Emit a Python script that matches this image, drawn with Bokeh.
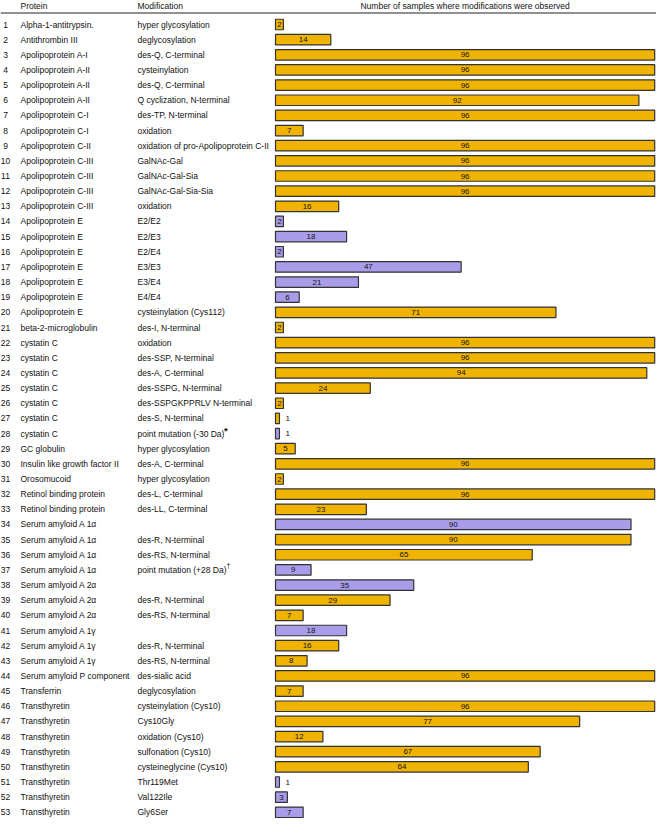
from bokeh.plotting import figure
from bokeh.models import ColumnDataSource, Range1d, Span
from bokeh.embed import file_html
from bokeh.resources import INLINE
from bokeh.core.properties import value

proteins = [
    "Alpha-1-antitrypsin.", "Antithrombin III", "Apolipoprotein A-I", "Apolipoprotein A-II",
    "Apolipoprotein A-II", "Apolipoprotein A-II", "Apolipoprotein C-I", "Apolipoprotein C-I",
    "Apolipoprotein C-II", "Apolipoprotein C-III", "Apolipoprotein C-III", "Apolipoprotein C-III",
    "Apolipoprotein C-III", "Apolipoprotein E", "Apolipoprotein E", "Apolipoprotein E",
    "Apolipoprotein E", "Apolipoprotein E", "Apolipoprotein E", "Apolipoprotein E",
    "beta-2-microglobulin", "cystatin C", "cystatin C", "cystatin C", "cystatin C",
    "cystatin C", "cystatin C", "cystatin C", "GC globulin", "Insulin like growth factor II",
    "Orosomucoid", "Retinol binding protein", "Retinol binding protein",
    "Serum amyloid A 1\u03b1", "Serum amyloid A 1\u03b1", "Serum amyloid A 1\u03b1",
    "Serum amyloid A 1\u03b1", "Serum amlyoid A 2\u03b1", "Serum amyloid A 2\u03b1",
    "Serum amyloid A 2\u03b1", "Serum amyloid A 1\u03b3", "Serum amyloid A 1\u03b3",
    "Serum amyloid A 1\u03b3", "Serum amyloid P component", "Transferrin", "Transthyretin",
    "Transthyretin", "Transthyretin", "Transthyretin", "Transthyretin", "Transthyretin",
    "Transthyretin", "Transthyretin",
]
modifications = [
    "hyper glycosylation", "deglycosylation", "des-Q, C-terminal", "cysteinylation",
    "des-Q, C-terminal", "Q cyclization, N-terminal", "des-TP, N-terminal", "oxidation",
    "oxidation of pro-Apolipoprotein C-II", "GalNAc-Gal", "GalNAc-Gal-Sia", "GalNAc-Gal-Sia-Sia",
    "oxidation", "E2/E2", "E2/E3", "E2/E4", "E3/E3", "E3/E4", "E4/E4", "cysteinylation (Cys112)",
    "des-I, N-terminal", "oxidation", "des-SSP, N-terminal", "des-A, C-terminal",
    "des-SSPG, N-terminal", "des-SSPGKPPRLV N-terminal", "des-S, N-terminal",
    "point mutation (-30 Da)", "hyper glycosylation", "des-A, C-terminal", "hyper glycosylation",
    "des-L, C-terminal", "des-LL, C-terminal", "", "des-R, N-terminal", "des-RS, N-terminal",
    "point mutation (+28 Da)", "", "des-R, N-terminal", "des-RS, N-terminal", "",
    "des-R, N-terminal", "des-RS, N-terminal", "des-sialic acid", "deglycosylation",
    "cysteinylation (Cys10)", "Cys10Gly", "oxidation (Cys10)", "sulfonation (Cys10)",
    "cysteineglycine (Cys10)", "Thr119Met", "Val122Ile", "Gly6Ser",
]
counts = [
    2, 14, 96, 96, 96, 92, 96, 7, 96, 96, 96, 96, 16, 2, 18, 2, 47, 21, 6, 71, 2,
    96, 96, 94, 24, 2, 1, 1, 5, 96, 2, 96, 23, 90, 90, 65, 9, 35, 29, 7, 18, 16, 8,
    96, 7, 96, 77, 12, 67, 64, 1, 3, 7,
]
# "m" = modification (orange), "v" = variant (purple)
kinds = [
    "m", "m", "m", "m", "m", "m", "m", "m", "m", "m", "m", "m", "m", "v", "v", "v", "v", "v", "v", "m", "m",
    "m", "m", "m", "m", "m", "m", "v", "m", "m", "m", "m", "m", "v", "m", "m", "v", "v", "m", "m", "v", "m", "m",
    "m", "m", "m", "m", "m", "m", "m", "v", "v", "v",
]
mark_rows = [28, 37]
mark_symbols = ["*", "\u2020"]

headers = ["Protein", "Modification", "Number of samples where modifications were observed"]

# ---- layout ----
W, H = 656, 818
PXU = 3.95          # pixels per sample
BAR_LEFT = 275      # px of bar origin inside figure
ROW = 15.15         # px per row
ROW1 = 24           # px of first row centre
FONT = value("Liberation Sans")
FS = "8.5px"

x0 = -BAR_LEFT / PXU
x1 = (W - BAR_LEFT) / PXU
y_top = 1 - ROW1 / ROW
y_bot = 1 + (H - ROW1) / ROW

num_x = x0 + 5 / PXU
prot_x = x0 + 20 / PXU
mod_x = x0 + 137 / PXU

n = len(counts)
rows = list(range(1, n + 1))
colors = ["#F0B400" if k == "m" else "#A99DEA" for k in kinds]

src = ColumnDataSource(dict(
    row=rows, num=[str(r) for r in rows], protein=proteins, mod=modifications,
    count=counts, color=colors, label=[str(c) for c in counts],
    mid=[c / 2 for c in counts],
))

p = figure(width=W, height=H, x_range=Range1d(x0, x1), y_range=Range1d(y_bot, y_top),
           output_backend="svg", toolbar_location=None, min_border=0,
           x_axis_location=None, y_axis_location=None)
p.grid.visible = False
p.outline_line_color = None
p.background_fill_color = "white"

# header
hy = y_top + 5 / ROW
p.text(x=[prot_x, mod_x], y=[hy, hy], text=headers[:2], text_font=FONT, text_font_size=FS,
       text_baseline="middle", text_align="left", text_color="#111111")
p.text(x=[max(counts) / 2], y=[hy], text=[headers[2]], text_font=FONT, text_font_size=FS,
       text_baseline="middle", text_align="center", text_color="#111111")
p.add_layout(Span(location=y_top + 12.5 / ROW, dimension="width", line_color="#222222", line_width=1))

# columns
p.text(x=num_x, y="row", text="num", source=src, text_font=FONT, text_font_size=FS,
       text_baseline="middle", text_align="center", text_color="#111111")
p.text(x=prot_x, y="row", text="protein", source=src, text_font=FONT, text_font_size=FS,
       text_baseline="middle", text_align="left", text_color="#111111")
p.text(x=mod_x, y="row", text="mod", source=src, text_font=FONT, text_font_size=FS,
       text_baseline="middle", text_align="left", text_color="#111111")
# superscript marks
p.text(x=[mod_x], y=[mark_rows[0] - 0.22], text=[mark_symbols[0]], x_offset=86.5,
       text_font=FONT, text_font_size="9.5px", text_font_style="bold", text_baseline="middle",
       text_align="left", text_color="#111111")
p.text(x=[mod_x], y=[mark_rows[1] - 0.28], text=[mark_symbols[1]], x_offset=89,
       text_font=FONT, text_font_size="7px", text_baseline="middle", text_align="left",
       text_color="#111111")

# bars
p.hbar(y="row", left=0, right="count", height=10.5 / ROW, source=src,
       fill_color="color", line_color="#333333", line_width=1.2)

# value labels
big = [i for i, c in enumerate(counts) if c >= 2]
small = [i for i, c in enumerate(counts) if c < 2]
p.text(x=[counts[i] / 2 for i in big], y=[rows[i] for i in big], text=[str(counts[i]) for i in big],
       text_font=FONT, text_font_size="8px", text_baseline="middle", text_align="center",
       text_color="#111111")
p.text(x=[counts[i] for i in small], y=[rows[i] for i in small], text=[str(counts[i]) for i in small],
       x_offset=6, text_font=FONT, text_font_size="8px", text_baseline="middle", text_align="left",
       text_color="#111111")

open("out.html", "w").write(file_html(p, INLINE))
